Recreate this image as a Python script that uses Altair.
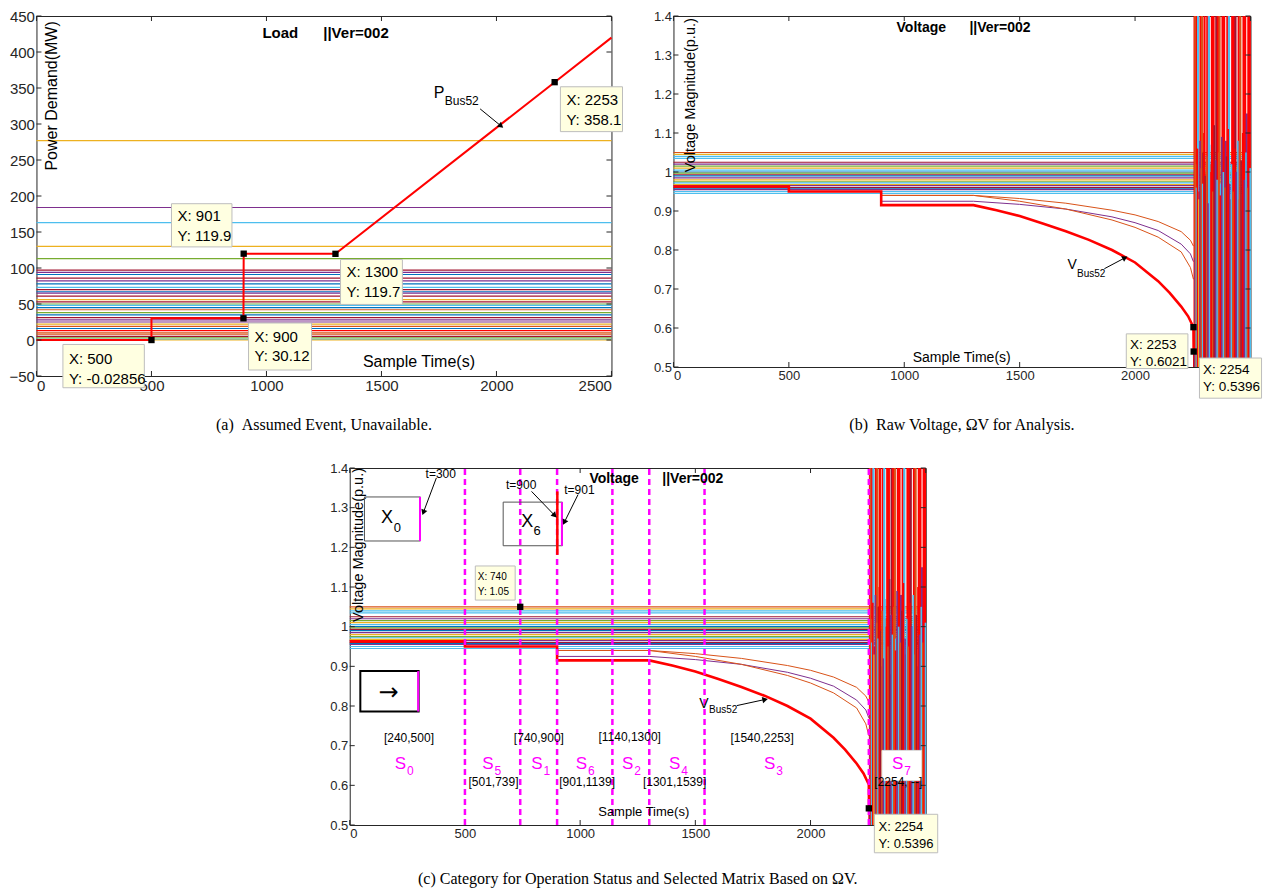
import math
import altair as alt
import pandas as pd

# ---------------- colours (MATLAB default order + pure red) ----------------
PALETTE = ["#0072BD", "#D95319", "#EDB120", "#7E2F8E", "#77AC30", "#4DBEEE", "#A2142F", "#FF0000"]

# ---------------- panel (a): load levels ----------------
load_levels = [277, 184, 163, 130, 113, 97, 94, 91, 86, 82, 78, 73, 70, 67, 65, 61, 56, 53, 50,
               48, 45, 42, 38, 35, 31, 28, 25, 22, 19, 16, 13, 10, 8, 5, 3, 1, 0]
load_groups = [2, 3, 5, 2, 4, 6, 3, 0, 6, 3, 0, 5, 6, 0, 3, 6, 2, 6, 4,
               5, 0, 1, 4, 0, 6, 3, 3, 2, 1, 0, 7, 1, 1, 6, 4, 5, 2]
pbus_x = [0, 500, 500, 900, 901, 1300, 2253, 2500]
pbus_y = [0, -0.02856, 30.12, 30.12, 119.9, 119.7, 358.1, 420]
tipa_x = [500, 900, 901, 1300, 2253]
tipa_y = [-0.02856, 30.12, 119.9, 119.7, 358.1]

# ---------------- panels (b),(c): voltage levels ----------------
volt_levels = [1.05, 1.045, 1.04, 1.035, 1.025, 1.02, 1.015, 1.01, 1.005, 1.0, 0.997, 0.993,
               0.99, 0.985, 0.98, 0.975, 0.972, 0.968, 0.965, 0.96, 0.957, 0.955, 0.95, 0.945]
volt_groups = [1, 2, 5, 5, 6, 3, 4, 2, 5, 0, 4, 6, 0, 3, 2, 4, 5, 2, 3, 6, 0, 3, 5, 5]
vbus_x = [0, 500, 500, 900, 900, 1300, 1400, 1500, 1600, 1700, 1800, 1900, 2000, 2100, 2150, 2200, 2230, 2253, 2254]
vbus_y = [0.963, 0.963, 0.95, 0.95, 0.915, 0.915, 0.902, 0.887, 0.868, 0.848, 0.826, 0.80, 0.768,
          0.72, 0.69, 0.655, 0.63, 0.6021, 0.5396]
curve_x = [900, 1300, 1500, 1700, 1900, 2000, 2100, 2200, 2240, 2253]
curve1_y = [0.94, 0.94, 0.932, 0.92, 0.902, 0.89, 0.873, 0.847, 0.825, 0.81]
curve2_y = [0.925, 0.925, 0.917, 0.905, 0.885, 0.87, 0.85, 0.815, 0.79, 0.77]
curve3_y = [0.94, 0.94, 0.925, 0.905, 0.877, 0.858, 0.833, 0.795, 0.755, 0.725]
# unstable region after collapse: full/partial vertical swings
chaos_x = [2256, 2258, 2261, 2264, 2268, 2273, 2279, 2284, 2290, 2296, 2301, 2307, 2313, 2320, 2326,
           2333, 2340, 2346, 2352, 2359, 2366, 2372, 2379, 2386, 2393, 2400, 2407, 2414, 2421, 2428,
           2435, 2442, 2449, 2456, 2463, 2470, 2477, 2484, 2491, 2497]
chaos_hi = [0.60, 1.4, 1.4, 0.82, 1.4, 1.4, 0.95, 1.4, 1.4, 1.05, 1.4, 0.9, 1.4, 1.4, 1.02, 1.4, 1.4,
            0.88, 1.4, 1.4, 1.4, 0.97, 1.4, 1.4, 1.08, 1.4, 1.4, 0.93, 1.4, 1.4, 1.4, 1.0, 1.4, 1.4,
            0.9, 1.4, 1.4, 1.15, 1.4, 1.4]
chaos_grp = [7, 7, 1, 3, 7, 5, 7, 7, 1, 6, 7, 3, 7, 5, 1, 7, 7, 3, 6, 7, 1, 5, 7, 7, 3, 7, 5, 1, 7, 7,
             6, 3, 7, 1, 5, 7, 7, 3, 7, 7]
chaos2_x = [2257, 2259.5, 2262.5, 2266, 2270.5, 2276, 2281.5, 2287, 2293, 2298.5, 2304, 2310, 2316.5,
            2323, 2329.5, 2336.5, 2343, 2349, 2355.5, 2362.5, 2369, 2375.5, 2382.5, 2389.5, 2396.5,
            2403.5, 2410.5, 2417.5, 2424.5, 2431.5, 2438.5, 2445.5, 2452.5, 2459.5, 2466.5, 2473.5,
            2480.5, 2487.5, 2494, 2499]
chaos2_hi = [0.58, 0.78, 1.02, 0.96, 1.06, 0.93, 1.08, 1.01, 0.97, 1.1, 0.99, 1.04, 0.92, 1.07, 1.0,
             0.95, 1.12, 1.03, 0.98, 1.05, 0.94, 1.09, 1.0, 0.96, 1.04, 1.11, 0.97, 1.02, 0.95, 1.06,
             1.0, 1.08, 0.93, 1.03, 1.1, 0.98, 1.05, 0.96, 1.07, 1.01]
chaos2_grp = [6, 3, 1, 5, 7, 2, 3, 1, 5, 7, 6, 1, 3, 5, 7, 1, 6, 3, 5, 1, 7, 3, 5, 1, 6, 7, 3, 5, 1, 7,
              3, 5, 1, 6, 7, 3, 5, 1, 7, 5]
tipv_x = [2253, 2254]
tipv_y = [0.6021, 0.5396]

# ---------------- panel (c) annotations ----------------
cut_x = [500, 740, 900, 1140, 1300, 1540, 2253]
s_labels = ["0", "5", "1", "6", "2", "4", "3", "7"]
s_x = [220, 600, 813, 1006, 1206, 1410, 1823, 2378]
br_top = ["[240,500]", "[740,900]", "[1140,1300]", "[1540,2253]"]
br_top_x = [257, 821, 1215, 1790]
br_bot = ["[501,739]", "[901,1139]", "[1301,1539]", "[2254, --]"]
br_bot_x = [624, 1030, 1410, 2381]

FONT = "Liberation Sans"
SERIF = "Liberation Serif"


def D(**cols):
    return pd.DataFrame(cols)


def make_enc(xdom, ydom, xvals, yvals, yfmt, lfs):
    def X(f):
        return alt.X(f"{f}:Q", scale=alt.Scale(domain=xdom, nice=False, zero=False),
                     axis=alt.Axis(values=xvals, title=None, format="d", labelFontSize=lfs))

    def Y(f):
        return alt.Y(f"{f}:Q", scale=alt.Scale(domain=ydom, nice=False, zero=False),
                     axis=alt.Axis(values=yvals, title=None, format=yfmt, labelFontSize=lfs))
    return X, Y


class Panel:
    def __init__(self, w, h, xdom, ydom, xvals, yvals, yfmt, lfs=13):
        self.w, self.h = w, h
        self.xdom, self.ydom = xdom, ydom
        self.X, self.Y = make_enc(xdom, ydom, xvals, yvals, yfmt, lfs)
        self.sx = w / (xdom[1] - xdom[0])
        self.sy = h / (ydom[1] - ydom[0])
        self.layers = []
        self.xvals, self.yvals = xvals, yvals

    def rules(self, x, x2, y, y2, color=None, grp=None, **kw):
        d = D(x=x, x2=x2, y=y, y2=y2)
        enc = dict(x=self.X("x"), x2="x2:Q", y=self.Y("y"), y2="y2:Q")
        if grp is not None:
            d["g"] = grp
            enc["color"] = alt.Color("g:O", scale=alt.Scale(domain=list(range(8)), range=PALETTE), legend=None)
            mk = alt.Chart(d).mark_rule(**kw)
        else:
            mk = alt.Chart(d).mark_rule(color=color, **kw)
        self.layers.append(mk.encode(**enc))

    def line(self, x, y, color, **kw):
        d = D(x=x, y=y, o=list(range(len(x))))
        self.layers.append(alt.Chart(d).mark_line(color=color, **kw).encode(
            x=self.X("x"), y=self.Y("y"), order="o:Q"))

    def rect(self, x, x2, y, y2, **kw):
        d = D(x=[x], x2=[x2], y=[y], y2=[y2])
        self.layers.append(alt.Chart(d).mark_rect(**kw).encode(
            x=self.X("x"), x2="x2:Q", y=self.Y("y"), y2="y2:Q"))

    def squares(self, x, y, size=40):
        d = D(x=x, y=y)
        self.layers.append(alt.Chart(d).mark_point(shape="square", filled=True, color="black",
                                                   size=size, opacity=1).encode(x=self.X("x"), y=self.Y("y")))

    def text(self, x, y, texts, **kw):
        d = D(x=x, y=y, t=texts)
        kw.setdefault("font", FONT)
        kw.setdefault("color", "black")
        self.layers.append(alt.Chart(d).mark_text(**kw).encode(
            x=self.X("x"), y=self.Y("y"), text="t:N"))

    def arrow(self, x1, y1, x2, y2):
        dx = (x2 - x1) * self.sx
        dy = -(y2 - y1) * self.sy
        ang = math.degrees(math.atan2(dx, -dy)) % 360
        self.rules([x1], [x2], [y1], [y2], color="black", strokeWidth=1)
        d = D(x=[x2], y=[y2])
        self.layers.append(alt.Chart(d).mark_point(shape="triangle", filled=True, color="black",
                                                   size=40, angle=ang, opacity=1).encode(
            x=self.X("x"), y=self.Y("y")))

    def datatip(self, bx, bx2, by, by2, tx, ty1, ty2, t1, t2, fs=13):
        self.rect(bx, bx2, by, by2, fill="#FFFFE1", stroke="#BDBDBD", strokeWidth=1)
        self.text([tx, tx], [ty1, ty2], [t1, t2], align="left", baseline="middle", fontSize=fs)

    def inner_ticks(self):
        tl = 5
        xs = self.xvals
        y0, y1 = self.ydom
        self.rules(xs, xs, [y0] * len(xs), [y0 + tl / self.sy] * len(xs), color="#262626")
        self.rules(xs, xs, [y1] * len(xs), [y1 - tl / self.sy] * len(xs), color="#262626")
        ys = self.yvals
        x0, x1 = self.xdom
        self.rules([x0] * len(ys), [x0 + tl / self.sx] * len(ys), ys, ys, color="#262626")
        self.rules([x1] * len(ys), [x1 - tl / self.sx] * len(ys), ys, ys, color="#262626")

    def spacer(self, x):
        # invisible mark that only widens the panel's layout bounds
        self.rules([x], [x], [self.ydom[0]], [self.ydom[0]], color="white", opacity=0)

    def chart(self, caption, cap_offset):
        return alt.layer(*self.layers).properties(
            width=self.w, height=self.h,
            title=alt.TitleParams(caption, orient="bottom", font=SERIF, fontSize=16,
                                  fontWeight="normal", color="black", offset=cap_offset, anchor="middle"))


NB = "\u00a0"

# ================= panel (a) =================
pa = Panel(575, 360, [0, 2500], [-50, 450], [0, 500, 1000, 1500, 2000, 2500],
           list(range(-50, 451, 50)), "d", lfs=15)
n = len(load_levels)
pa.rules([0] * n, [2500] * n, load_levels, load_levels, grp=load_groups, strokeWidth=1.2)
pa.line(pbus_x, pbus_y, "#FF0000", strokeWidth=2)
pa.inner_ticks()
pa.squares(tipa_x, tipa_y)
pa.datatip(115, 469, -6.2, -66.3, 141, -26.4, -54.2, "X: 500", "Y: -0.02856", fs=15)
pa.datatip(922, 1196, 23.6, -41.7, 948, 4.7, -22.9, "X: 900", "Y: 30.12", fs=15)
pa.datatip(587, 850, 189.3, 129.3, 613, 172.2, 144.4, "X: 901", "Y: 119.9", fs=15)
pa.datatip(1322, 1591, 111.8, 49.4, 1348, 93.8, 66.1, "X: 1300", "Y: 119.7", fs=15)
pa.datatip(2278, 2548, 351.7, 289.4, 2304, 333.8, 305.6, "X: 2253", "Y: 358.1", fs=15)
pa.text([1257], [427], ["Load" + NB * 6 + "||Ver=002"], fontSize=15, fontWeight="bold")
pa.text([1663], [-31], ["Sample Time(s)"], fontSize=16)
pa.text([67], [339], ["Power Demand(MW)"], fontSize=16, angle=270)
pa.text([1750], [342.5], ["P"], fontSize=16)
pa.text([1849], [332.4], ["Bus52"], fontSize=12)
pa.arrow(1929, 321, 2017, 298)


# ================= panel (b) =================
def voltage_panel(w, h, lfs):
    p = Panel(w, h, [0, 2500], [0.5, 1.4], [0, 500, 1000, 1500, 2000, 2500],
              [0.5, 0.6, 0.7, 0.8, 0.9, 1.0, 1.1, 1.2, 1.3, 1.4], ".1~f", lfs=lfs)
    m = len(volt_levels)
    p.rules([0] * m, [2500] * m, volt_levels, volt_levels, grp=volt_groups, strokeWidth=1.2)
    p.line(curve_x, curve1_y, PALETTE[1], strokeWidth=1)
    p.line(curve_x, curve2_y, PALETTE[3], strokeWidth=1)
    p.line(curve_x, curve3_y, PALETTE[1], strokeWidth=1)
    k = len(chaos_x)
    p.rules(chaos_x, chaos_x, [0.5] * k, chaos_hi, grp=chaos_grp, strokeWidth=2.2)
    k2 = len(chaos2_x)
    p.rules(chaos2_x, chaos2_x, [0.5] * k2, chaos2_hi, grp=chaos2_grp, strokeWidth=1.6)
    p.line(vbus_x, vbus_y, "#FF0000", strokeWidth=2.6)
    p.inner_ticks()
    return p


pb = voltage_panel(577, 351, 13)
pb.squares(tipv_x, tipv_y)
pb.datatip(1962, 2229, 0.585, 0.496, 1978, 0.556, 0.513, "X: 2253", "Y: 0.6021", fs=13.5)
pb.datatip(2279, 2548, 0.523, 0.42, 2294, 0.493, 0.449, "X: 2254", "Y: 0.5396", fs=13.5)
pb.text([1257], [1.369], ["Voltage" + NB * 6 + "||Ver=002"], fontSize=14, fontWeight="bold")
pb.text([1249], [0.523], ["Sample Time(s)"], fontSize=14)
pb.text([75], [1.197], ["Voltage Magnitude(p.u.)"], fontSize=14.5, angle=270)
pb.text([1727], [0.761], ["V"], fontSize=14)
pb.text([1810], [0.739], ["Bus52"], fontSize=10)
pb.arrow(1867, 0.752, 1953, 0.779)

# ================= panel (c) =================
pc = voltage_panel(576, 357, 13)
nc = len(cut_x)
pc.rules(cut_x, cut_x, [0.5] * nc, [1.4] * nc, color="#FF00FF", strokeWidth=2.5, strokeDash=[6, 4])
pc.squares([740, 2253], [1.05, 0.542])
pc.datatip(545, 718, 1.153, 1.067, 556, 1.125, 1.088, "X: 740", "Y: 1.05", fs=10)
pc.datatip(2277, 2552, 0.527, 0.43, 2295, 0.495, 0.452, "X: 2254", "Y: 0.5396", fs=13)
pc.text([1331], [1.372], ["Voltage" + NB * 6 + "||Ver=002"], fontSize=14, fontWeight="bold")
pc.text([1276], [0.532], ["Sample Time(s)"], fontSize=13)
pc.text([42], [1.206], ["Voltage Magnitude(p.u.)"], fontSize=14.5, angle=270)
pc.text([1537], [0.806], ["V"], fontSize=14)
pc.text([1621], [0.789], ["Bus52"], fontSize=10)
pc.arrow(1680, 0.801, 1799, 0.816)
# S7 white box
pc.rect(2310, 2482, 0.688, 0.612, fill="white", stroke="#DDDDDD", strokeWidth=1)
# state labels
ns = len(s_x)
pc.text(s_x, [0.654] * ns, ["S"] * ns, fontSize=17, color="#FF00FF")
pc.text([v + 43 for v in s_x], [0.635] * ns, s_labels, fontSize=12, color="#FF00FF")
pc.text(br_top_x, [0.719, 0.719, 0.721, 0.719], br_top, fontSize=12)
pc.text(br_bot_x, [0.608] * 4, br_bot, fontSize=12)
# X0 box
pc.rect(64, 307, 1.327, 1.216, fill="white", fillOpacity=0, stroke="#555555", strokeWidth=1)
pc.rules([305], [305], [1.327], [1.216], color="#FF00FF", strokeWidth=2)
pc.text([162], [1.274], ["X"], fontSize=18)
pc.text([207], [1.25], ["0"], fontSize=13)
pc.text([395], [1.386], ["t=300"], fontSize=12)
pc.arrow(376, 1.375, 321, 1.29)
# X6 box
pc.rect(666, 923, 1.314, 1.204, fill="white", fillOpacity=0, stroke="#555555", strokeWidth=1)
pc.rules([901], [901], [1.341], [1.181], color="#FF0000", strokeWidth=2.5)
pc.rules([921], [921], [1.314], [1.204], color="#FF00FF", strokeWidth=2)
pc.text([771], [1.263], ["X"], fontSize=18)
pc.text([813], [1.24], ["6"], fontSize=13)
pc.text([744], [1.356], ["t=900"], fontSize=12)
pc.arrow(789, 1.341, 887, 1.282)
pc.text([997], [1.345], ["t=901"], fontSize=12)
pc.arrow(991, 1.333, 933, 1.265)
# arrow box
pc.rect(46, 299, 0.888, 0.786, fill="white", fillOpacity=0, stroke="black", strokeWidth=2)
pc.rules([297], [297], [0.888], [0.786], color="#FF00FF", strokeWidth=2)
pc.text([169], [0.833], ["\u2192"], fontSize=24, font="DejaVu Sans")
pc.spacer(2600)

ca = pa.chart("(a)" + NB * 2 + "Assumed Event, Unavailable.", 24)
cb = pb.chart("(b)" + NB * 2 + "Raw Voltage, \u03a9V for Analysis.", 18)
cc = pc.chart("(c) Category for Operation Status and Selected Matrix Based on \u03a9V.", 18)

chart = alt.vconcat(
    alt.hconcat(ca, cb, spacing=28),
    cc, spacing=27, center=True
).properties(padding={"left": 0, "top": 0, "right": 0, "bottom": 0}).configure_view(
    stroke="#262626", strokeWidth=1
).configure_axis(
    labelFont=FONT, labelColor="#262626", domain=False, ticks=False,
    grid=False, labelPadding=2
)

chart.save("out.html", embed_options={"renderer": "svg", "actions": False})
